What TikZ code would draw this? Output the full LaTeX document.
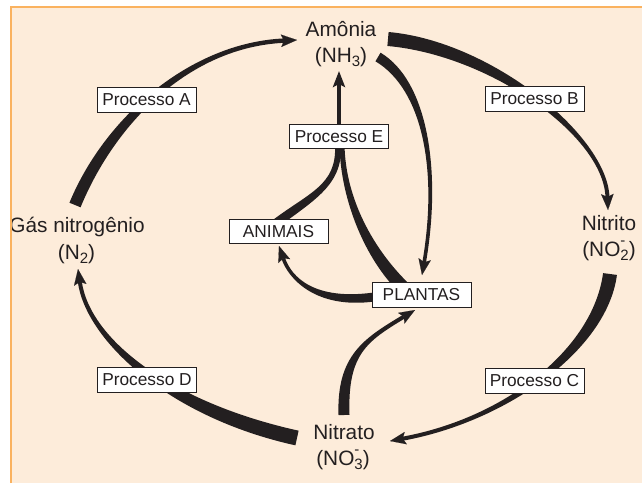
\documentclass[tikz,border=0pt]{standalone}
\usepackage{fontspec}
\setmainfont{Liberation Sans}
\usetikzlibrary{calc,arrows.meta}
\definecolor{peach}{RGB}{253,236,218}
\definecolor{frameor}{RGB}{250,178,95}
\definecolor{ink}{RGB}{35,31,32}
\pgfdeclarelayer{bg}
\pgfsetlayers{bg,main}
\newcommand{\chemsub}[1]{\raisebox{-4.5pt}{\fontsize{15}{15}\selectfont #1}}
\newcommand{\chemion}[1]{\makebox[0pt][l]{\smash{\raisebox{10.5pt}{\fontsize{15}{15}\selectfont -}}}\raisebox{-4.5pt}{\fontsize{15}{15}\selectfont #1}}
% tapered band: #1 start, #2 ctrl1, #3 ctrl2, #4 end, #5 half width start, #6 half width end
\newcommand{\taperband}[6]{%
  \fill[ink] ($(#1)!#5!90:(#2)$) .. controls ($(#2)!#5!-90:(#1)$) and ($(#3)!#6!90:(#4)$) .. ($(#4)!#6!-90:(#3)$)
   -- ($(#4)!#6!90:(#3)$) .. controls ($(#3)!#6!-90:(#4)$) and ($(#2)!#5!90:(#1)$) .. ($(#1)!#5!-90:(#2)$) -- cycle;}
% tapered arrow: #4 is the tip, #7 a name prefix
\newcommand{\taperarrow}[7]{%
  \coordinate (#7b) at ($(#4)!13pt!(#3)$);
  \taperband{#1}{#2}{#3}{#7b}{#5}{#6}
  \draw[ink, line width=0.1pt, -{Stealth[length=16pt,width=12.5pt,inset=3pt]}] ($(#4)!16pt!(#3)$) -- (#4);}
\begin{document}
\begin{tikzpicture}[x=1pt,y=-1pt,
  lab/.style={font=\fontsize{20.8}{25}\selectfont, text=ink, inner sep=0pt, anchor=base},
  pbox/.style={draw=ink, line width=0.9pt, fill=white, minimum width=99pt, minimum height=24.5pt, inner sep=0pt, font=\fontsize{17.3}{20}\selectfont, text=ink}]
\useasboundingbox (0,0) rectangle (642,483);

% labels
\node[lab] (amo) at (341,36) {Amônia};
\node[lab] (nh3) at (341,62) {(NH\chemsub{3})};
\node[lab] (gas) at (77,232.7) {Gás nitrogênio};
\node[lab] (n2) at (76.5,259) {(N\chemsub{2})};
\node[lab] (nitrito) at (609,230) {Nitrito};
\node[lab] (no2) at (609,256) {(NO\chemion{2})};
\node[lab] (nitrato) at (344,439.3) {Nitrato};
\node[lab] (no3) at (343,465) {(NO\chemion{3})};

% boxes
\node[pbox] (pA) at (146.5,100) {Processo A};
\node[pbox] (pB) at (534.5,99) {Processo B};
\node[pbox] (pC) at (534.5,381) {Processo C};
\node[pbox] (pD) at (147,380) {Processo D};
\node[pbox] (pE) at (339,136.5) {Processo E};
\node[pbox] (anim) at (278.5,231.5) {ANIMAIS};
\node[pbox] (plan) at (421.5,295) {PLANTAS};

% connector end points
\coordinate (aS) at (75,205);   \coordinate (aT) at (297,40);
\coordinate (bS) at (388,39);   \coordinate (bT) at (608,210);
\coordinate (cS) at (610,274);  \coordinate (cT) at (390,441);
\coordinate (dS) at (297,438);  \coordinate (dT) at (78,269);
\coordinate (eT) at (339,71);
\coordinate (fS) at (378,57);   \coordinate (fT) at (422,275);
\coordinate (gS) at (374,297);  \coordinate (gT) at (279,246);
\coordinate (hS) at (344,415);  \coordinate (hT) at (415,310);
\coordinate (anS) at (275,224); \coordinate (anE) at (338,145);
\coordinate (plS) at (404,288); \coordinate (plE) at (342,145);

\begin{pgfonlayer}{bg}
\fill[white] (0,0) rectangle (642,483);
\fill[peach] (10,7) rectangle (642,483);
% main cycle
\taperarrow{aS}{110,120}{190,45}{aT}{6pt}{2.2pt}{a}
\taperarrow{bS}{490,48}{605,135}{bT}{7pt}{2pt}{b}
\taperarrow{cS}{600,350}{505,420}{cT}{7pt}{2pt}{c}
\taperarrow{dS}{170,410}{88,340}{dT}{7.5pt}{2pt}{d}
% inner flows
\taperarrow{fS}{425,85}{440,170}{fT}{5pt}{1.8pt}{f}
\taperarrow{gS}{315,305}{290,278}{gT}{4.5pt}{1.8pt}{g}
\taperarrow{hS}{342,355}{365,340}{hT}{5.5pt}{2pt}{h}
\taperband{anS}{312,196}{340,185}{anE}{4.5pt}{3pt}
\taperband{plS}{370,255}{343,200}{plE}{6.5pt}{2.5pt}
\draw[ink, line width=4.5pt, -{Stealth[length=16pt,width=12pt,inset=3pt]}] (pE.north) -- (eT);
\end{pgfonlayer}

% frame
\fill[white] (0,0) rectangle (10,483);
\fill[white] (0,0) rectangle (642,6.3);
\draw[frameor, line width=1.5pt] (10.75,483) -- (10.75,7) -- (642,7);
\end{tikzpicture}
\end{document}
